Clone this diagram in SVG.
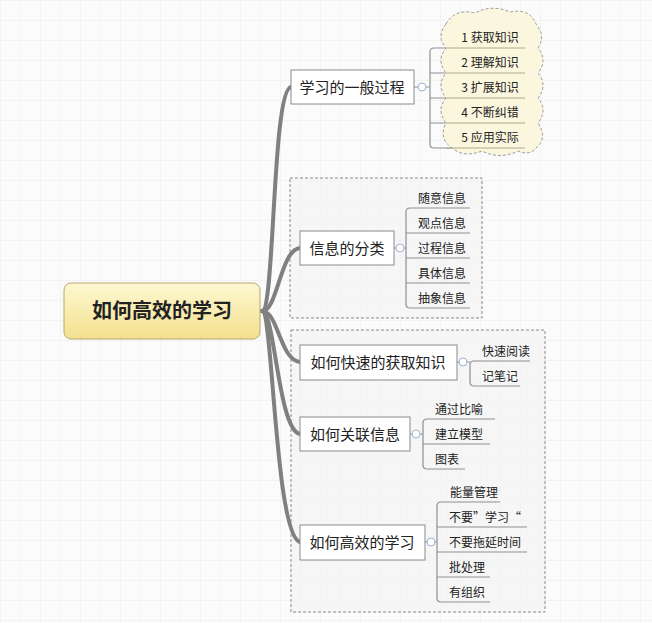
<svg xmlns="http://www.w3.org/2000/svg" width="652" height="623" viewBox="0 0 652 623">
<defs>
<pattern id="grid" width="20" height="20" patternUnits="userSpaceOnUse"><path d="M20 0H0V20" fill="none" stroke="#ececec" stroke-width="1"/></pattern>
<linearGradient id="yg" x1="0" y1="0" x2="0" y2="1"><stop offset="0" stop-color="#fdf8d2"/><stop offset="1" stop-color="#f3e08e"/></linearGradient>
<style>
text{font-family:"Noto Sans CJK SC","Liberation Sans",sans-serif;fill:#222}
.n{fill:#fff;stroke:#8a8a8a;stroke-width:1}
.t{font-size:15px}
.l{font-size:12px}
.br{fill:none;stroke:#8f8f8f;stroke-width:1.2}
.bx{fill:#f4f4f4;fill-opacity:0.6;stroke:#8a8a8a;stroke-dasharray:3,2}
.c{fill:#fff;stroke:#9bb3d6;stroke-width:1}
.m{fill:none;stroke:#808080;stroke-width:4;stroke-linecap:round}
</style>
</defs>
<rect width="652" height="623" fill="#fbfbfb"/>
<rect width="652" height="623" fill="url(#grid)"/>
<rect class="bx" x="290" y="178" width="192" height="140"/>
<rect class="bx" x="291" y="330" width="254" height="282"/>
<g id="connectors">
<path class="m" d="M262 311 C275 311 272 90 291 87"/>
<path class="m" d="M262 311 C278 311 280 250 300 248"/>
<path class="m" d="M262 311 C278 311 280 360 300 362"/>
<path class="m" d="M262 311 C275 311 278 430 300 434"/>
<path class="m" d="M262 311 C273 311 275 535 300 542"/>
<path class="br" d="M414 87H430M430 52V144Q430 148 434 148H460M430 52Q430 48 434 48H520M430 73H520M430 98H520M430 123H520"/>
<path class="br" d="M394 248H406M406 212V304Q406 308 410 308H470M406 212Q406 208 410 208H470M406 233H470M406 258H470M406 283H470"/>
<path class="br" d="M457 362H470M470 365V382Q470 386 474 386H520M470 365Q470 361 474 361H530"/>
<path class="br" d="M410 434H423M423 423V465Q423 469 427 469H465M423 423Q423 419 427 419H495M423 444H490"/>
<path class="br" d="M425 542H437M437 506V598Q437 602 441 602H490M437 506Q437 502 441 502H500M437 527H527M437 552H527M437 577H490"/>
</g>
<g id="center"><rect x="64" y="283" width="196" height="56" rx="7" fill="url(#yg)" stroke="#b8a96a"/><text x="162" y="318" font-size="20" font-weight="bold" text-anchor="middle">如何高效的学习</text></g>
<g id="n1"><rect class="n" x="291" y="70" width="123" height="34"/><text class="t" x="352" y="93" text-anchor="middle">学习的一般过程</text><circle class="c" cx="422" cy="87" r="4"/></g>
<g id="cloud">
<path d="M446 24 Q455 8 475 13 Q492 4 510 12 Q530 8 536 24 Q546 36 538 48 Q548 60 538 73 Q548 85 538 98 Q548 110 538 123 Q548 138 536 148 Q530 156 518 151 Q500 160 482 151 Q464 158 452 148 Q438 138 446 123 Q436 110 446 98 Q436 85 446 73 Q436 60 446 48 Q436 36 446 24Z" fill="#fbf7df" stroke="#999" stroke-dasharray="3,2"/>
<text class="l" x="490" y="42" text-anchor="middle">1 获取知识</text>
<text class="l" x="490" y="67" text-anchor="middle">2 理解知识</text>
<text class="l" x="490" y="92" text-anchor="middle">3 扩展知识</text>
<text class="l" x="490" y="117" text-anchor="middle">4 不断纠错</text>
<text class="l" x="490" y="142" text-anchor="middle">5 应用实际</text>
<path d="M446 48H525M446 73H525M446 98H525M446 123H525M446 148H525" fill="none" stroke="#b0a98a"/>
</g>
<g id="n2"><rect class="n" x="300" y="231" width="94" height="34"/><text class="t" x="347" y="254" text-anchor="middle">信息的分类</text><circle class="c" cx="400" cy="248" r="4"/>
<text class="l" x="418" y="203">随意信息</text><text class="l" x="418" y="228">观点信息</text><text class="l" x="418" y="253">过程信息</text><text class="l" x="418" y="278">具体信息</text><text class="l" x="418" y="303">抽象信息</text></g>
<g id="n3"><rect class="n" x="300" y="345" width="157" height="35"/><text class="t" x="378" y="368" text-anchor="middle">如何快速的获取知识</text><circle class="c" cx="463" cy="362" r="4"/>
<text class="l" x="482" y="356">快速阅读</text><text class="l" x="482" y="381">记笔记</text></g>
<g id="n4"><rect class="n" x="300" y="417" width="110" height="34"/><text class="t" x="355" y="440" text-anchor="middle">如何关联信息</text><circle class="c" cx="416" cy="434" r="4"/>
<text class="l" x="435" y="414">通过比喻</text><text class="l" x="435" y="439">建立模型</text><text class="l" x="435" y="464">图表</text></g>
<g id="n5"><rect class="n" x="300" y="525" width="125" height="35"/><text class="t" x="362" y="548" text-anchor="middle">如何高效的学习</text><circle class="c" cx="431" cy="542" r="4"/>
<text class="l" x="450" y="497">能量管理</text><text class="l" x="449" y="522">不要”学习“</text><text class="l" x="449" y="547">不要拖延时间</text><text class="l" x="449" y="572">批处理</text><text class="l" x="449" y="597">有组织</text></g>
</svg>
